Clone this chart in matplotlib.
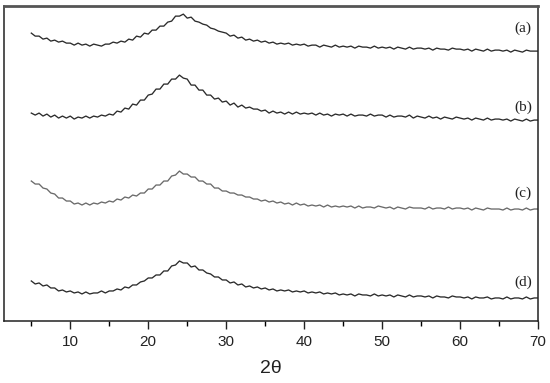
import matplotlib
matplotlib.use("Agg")
import matplotlib.pyplot as plt
import numpy as np
from matplotlib.ticker import MultipleLocator

# 2-theta grid, 5 to 70 deg in 0.5 deg steps
two_theta = np.arange(5, 70.01, 0.5)

# intensities (arbitrary units, already stacked)
a = [
    288, 285, 285, 282, 283, 280, 281, 279, 280, 278,
    278, 276, 278, 276, 277, 275, 277, 276, 275, 277,
    277, 279, 278, 280, 279, 282, 281, 285, 284, 288,
    287, 291, 291, 295, 295, 299, 300, 305, 305, 307,
    303, 304, 300, 299, 297, 296, 293, 292, 290, 289,
    288, 285, 286, 283, 284, 281, 282, 280, 281, 279,
    280, 278, 279, 277, 278, 277, 278, 276, 277, 276,
    277, 275, 276, 276, 274, 276, 275, 274, 276, 274,
    275, 274, 275, 273, 275, 274, 274, 273, 275, 273,
    274, 273, 274, 272, 274, 273, 272, 274, 272, 273,
    273, 272, 273, 271, 273, 272, 272, 271, 273, 272,
    272, 271, 272, 270, 272, 271, 270, 272, 270, 271,
    271, 270, 271, 269, 271, 270, 269, 271, 270, 270,
    270]
b = [
    208, 206, 208, 205, 207, 204, 206, 203, 205, 203,
    205, 202, 204, 203, 205, 203, 205, 204, 206, 205,
    207, 206, 210, 209, 213, 212, 217, 216, 221, 221,
    226, 227, 232, 232, 237, 237, 242, 242, 246, 243,
    242, 236, 236, 231, 231, 226, 226, 222, 223, 219,
    220, 216, 218, 214, 216, 213, 214, 212, 212, 210,
    211, 208, 210, 208, 209, 207, 209, 207, 209, 207,
    208, 207, 208, 206, 208, 206, 207, 205, 207, 206,
    207, 205, 207, 205, 206, 206, 205, 207, 205, 206,
    206, 204, 206, 204, 205, 205, 204, 206, 203, 205,
    204, 203, 205, 203, 204, 202, 204, 203, 202, 204,
    203, 202, 203, 201, 203, 202, 201, 203, 201, 202,
    202, 201, 202, 200, 202, 201, 200, 202, 200, 201,
    201]
c = [
    140, 137, 137, 133, 132, 128, 127, 123, 123, 120,
    120, 117, 118, 116, 118, 116, 118, 117, 119, 118,
    120, 119, 122, 121, 124, 123, 126, 125, 128, 128,
    132, 132, 136, 136, 140, 140, 145, 146, 150, 147,
    147, 144, 144, 140, 140, 137, 137, 133, 133, 130,
    130, 128, 128, 126, 126, 124, 124, 122, 122, 120,
    121, 119, 120, 118, 119, 117, 118, 116, 118, 116,
    117, 115, 116, 115, 116, 114, 116, 114, 115, 114,
    115, 114, 115, 113, 115, 113, 114, 114, 113, 115,
    114, 113, 114, 112, 114, 113, 112, 114, 113, 113,
    113, 112, 114, 112, 113, 113, 112, 114, 112, 113,
    113, 112, 113, 111, 113, 112, 111, 113, 112, 112,
    112, 111, 113, 111, 112, 112, 111, 113, 111, 112,
    112]
d = [
    40, 37, 38, 35, 36, 33, 33, 30, 31, 29,
    30, 28, 29, 27, 29, 27, 28, 28, 30, 28,
    30, 30, 32, 31, 34, 33, 36, 36, 39, 40,
    43, 43, 46, 46, 50, 50, 55, 56, 60, 58,
    58, 54, 55, 51, 51, 48, 47, 44, 44, 41,
    41, 38, 39, 36, 37, 34, 35, 33, 34, 32,
    33, 31, 32, 30, 31, 30, 31, 29, 30, 29,
    30, 28, 29, 28, 29, 27, 28, 27, 28, 26,
    27, 26, 27, 25, 27, 26, 26, 25, 27, 25,
    26, 25, 26, 24, 26, 25, 24, 26, 24, 25,
    25, 24, 25, 23, 25, 24, 24, 23, 25, 24,
    24, 23, 24, 22, 24, 23, 23, 24, 22, 23,
    23, 22, 24, 22, 23, 23, 22, 24, 22, 23,
    23]

labels = ['(a)', '(b)', '(c)', '(d)']
label_y = [293, 214, 128, 39]
colors = ['#2b2b2b', '#2b2b2b', '#6a6a6a', '#2b2b2b']

fig = plt.figure(figsize=(5.5, 3.83), dpi=100)
ax = fig.add_axes([0.0073, 0.162, 0.971, 0.822])

for ys, col in zip([a, b, c, d], colors):
    ax.plot(two_theta, ys, color=col, lw=0.95)

for lab, ly in zip(labels, label_y):
    ax.text(68.1, ly, lab, ha='center', va='center', fontsize=11,
            family='Liberation Serif', color='#222222')

ax.set_xlim(1.5, 70)
ax.set_ylim(0, 315)
ax.xaxis.set_major_locator(MultipleLocator(10))
ax.xaxis.set_minor_locator(MultipleLocator(10, offset=5))
ax.set_xticks(range(10, 71, 10))
ax.set_yticks([])
ax.tick_params(axis='x', which='major', direction='out', length=6, width=1,
               labelsize=11, colors='#222222', pad=4)
ax.tick_params(axis='x', which='minor', direction='out', length=3.5, width=1)
for lab in ax.get_xticklabels():
    lab.set_family('Liberation Sans')

for s in ['left', 'right', 'bottom']:
    ax.spines[s].set_color('#222222')
    ax.spines[s].set_linewidth(1.1)
ax.spines['top'].set_color('#555555')
ax.spines['top'].set_linewidth(2)

fig.text(0.493, 0.037, '2\u03b8', ha='center', va='center', fontsize=14,
         family='Liberation Sans', color='#222222')

fig.savefig('out.png', dpi=100)
